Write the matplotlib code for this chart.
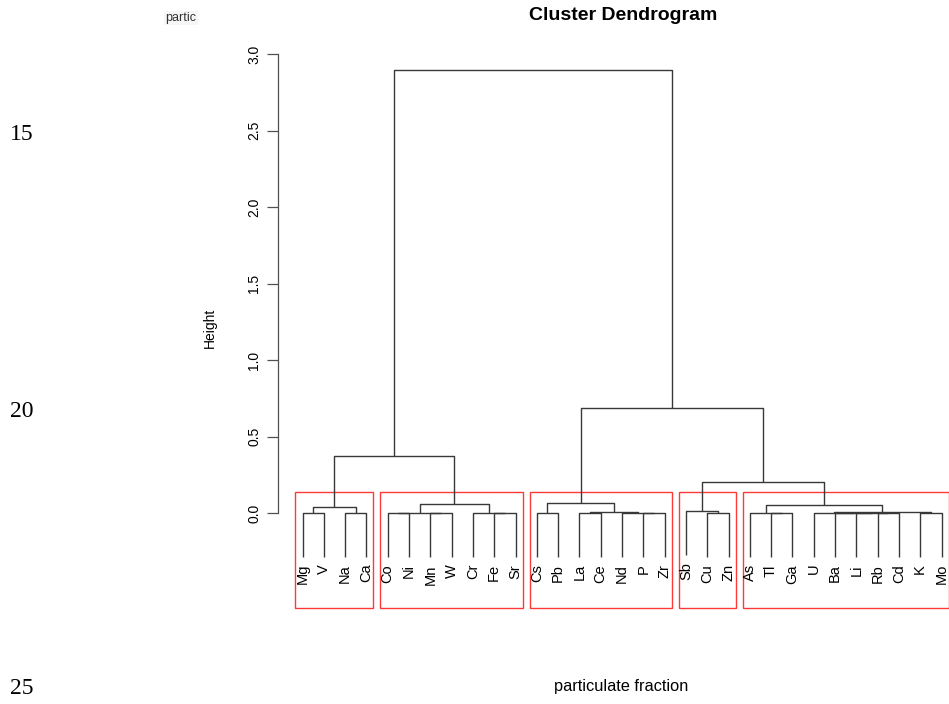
import matplotlib
matplotlib.use('Agg')
import matplotlib.pyplot as plt
from matplotlib.patches import Rectangle

plt.rcParams['font.family'] = ['Liberation Sans', 'DejaVu Sans']

# leaves in dendrogram order
labels = ['Mg', 'V', 'Na', 'Ca', 'Co', 'Ni', 'Mn', 'W', 'Cr', 'Fe', 'Sr',
          'Cs', 'Pb', 'La', 'Ce', 'Nd', 'P', 'Zr', 'Sb', 'Cu', 'Zn',
          'As', 'Tl', 'Ga', 'U', 'Ba', 'Li', 'Rb', 'Cd', 'K', 'Mo']

# merges: left, right, height  (str = leaf, int = earlier merge)
merge_left = ['Mg', 'Na', 0, 'Co', 'Mn', 3, 'Fe', 'Cr', 5, 2,
              'Cs', 'La', 'P', 'Nd', 11, 10, 'Cu', 'Sb', 'Tl', 'As',
              'Rb', 'Li', 'Ba', 'U', 'K', 23, 19, 17, 15, 9]
merge_right = ['V', 'Ca', 1, 'Ni', 'W', 4, 'Sr', 6, 7, 8,
               'Pb', 'Ce', 'Zr', 12, 13, 14, 'Zn', 16, 'Ga', 18,
               'Cd', 20, 21, 22, 'Mo', 24, 25, 26, 27, 28]
merge_height = [0.003, 0.003, 0.037, 0.0, 0.0, 0.002, 0.0, 0.002, 0.057, 0.374,
                0.0, 0.0, 0.0, 0.001, 0.008, 0.067, 0.0, 0.015, 0.0, 0.002,
                0.0, 0.0, 0.001, 0.003, 0.002, 0.008, 0.052, 0.205, 0.686, 2.895]

n_clusters = 5
hang = 0.1

yticks = [0.0, 0.5, 1.0, 1.5, 2.0, 2.5, 3.0]

W, H = 949, 704
fig = plt.figure(figsize=(W / 100, H / 100), dpi=100)
# plot region (pixels): left 278, right 960, top 40, bottom 607.5
ax = fig.add_axes([278 / W, 1 - 607.5 / H, (960 - 278) / W, (607.5 - 40) / H])
ax.set_facecolor('none')

leaf_x = {lab: i + 1 for i, lab in enumerate(labels)}
hang_len = hang * (max(merge_height) - min(merge_height))

node_x = []
node_members = []
line_col = '#383838'


def child_info(c):
    if isinstance(c, str):
        return leaf_x[c], None, [c]
    return node_x[c], merge_height[c], node_members[c]


for l, r, h in zip(merge_left, merge_right, merge_height):
    xl, hl, ml = child_info(l)
    xr, hr, mr = child_info(r)
    if hl is None:
        hl = h - hang_len
        ax.annotate(l, (xl, hl), xytext=(0, -5), textcoords='offset points',
                    rotation=90, ha='center', va='top', fontsize=10.5)
    if hr is None:
        hr = h - hang_len
        ax.annotate(r, (xr, hr), xytext=(0, -5), textcoords='offset points',
                    rotation=90, ha='center', va='top', fontsize=10.5)
    ax.plot([xl, xl, xr, xr], [hl, h, h, hr], color=line_col, lw=1.0,
            solid_capstyle='butt')
    node_x.append((xl + xr) / 2)
    node_members.append(ml + mr)

ax.set_xlim(1 - (302.5 - 278) / 21.3, 1 + (960 - 302.5) / 21.3)
ax.set_ylim(-(607.5 - 513) / 153, (513 - 40) / 153)

# rect.hclust style boxes
hs = sorted(merge_height, reverse=True)
cut = (hs[n_clusters - 2] + hs[n_clusters - 1]) / 2
groups = []
for i, h in enumerate(merge_height):
    if h < cut:
        parent = [j for j in range(len(merge_height))
                  if merge_left[j] == i or merge_right[j] == i][0]
        if merge_height[parent] >= cut:
            groups.append(node_members[i])
for g in groups:
    xs = [leaf_x[m] for m in g]
    x0, x1 = min(xs) - 0.34, max(xs) + 0.33
    y0 = ax.get_ylim()[0]
    ax.add_patch(Rectangle((x0, y0), x1 - x0, cut - y0, fill=False,
                           edgecolor='#ff3838', lw=1.0, clip_on=False))

for s in ['top', 'right', 'bottom']:
    ax.spines[s].set_visible(False)
ax.spines['left'].set_bounds(0, 3)
ax.spines['left'].set_color('#505050')
ax.spines['left'].set_linewidth(0.9)
ax.set_xticks([])
ax.set_yticks(yticks)
ax.set_yticklabels(['%.1f' % t for t in yticks], rotation=90, va='center',
                   fontsize=10)
ax.tick_params(axis='y', length=8, width=0.9, color='#505050', pad=4)

fig.text(623 / W, 1 - 15 / H, 'Cluster Dendrogram', ha='center', va='center',
         fontsize=14, fontweight='bold')
fig.text(210 / W, 1 - 328 / H, 'Height', ha='center', va='center',
         rotation=90, fontsize=10)
fig.text(621 / W, 1 - 686 / H, 'particulate fraction', ha='center',
         va='center', fontsize=11.8)

# pieces of the surrounding page
fig.text(181 / W, 1 - 18 / H, 'partic', ha='center', va='center',
         fontsize=9, color='#333333',
         bbox=dict(facecolor='#f6f6f6', edgecolor='none', pad=1))
for num, yy in [('15', 134), ('20', 411), ('25', 689)]:
    fig.text(22 / W, 1 - yy / H, num, ha='center', va='center',
             fontsize=17, family='Liberation Serif')

fig.savefig('out.png', dpi=100)
